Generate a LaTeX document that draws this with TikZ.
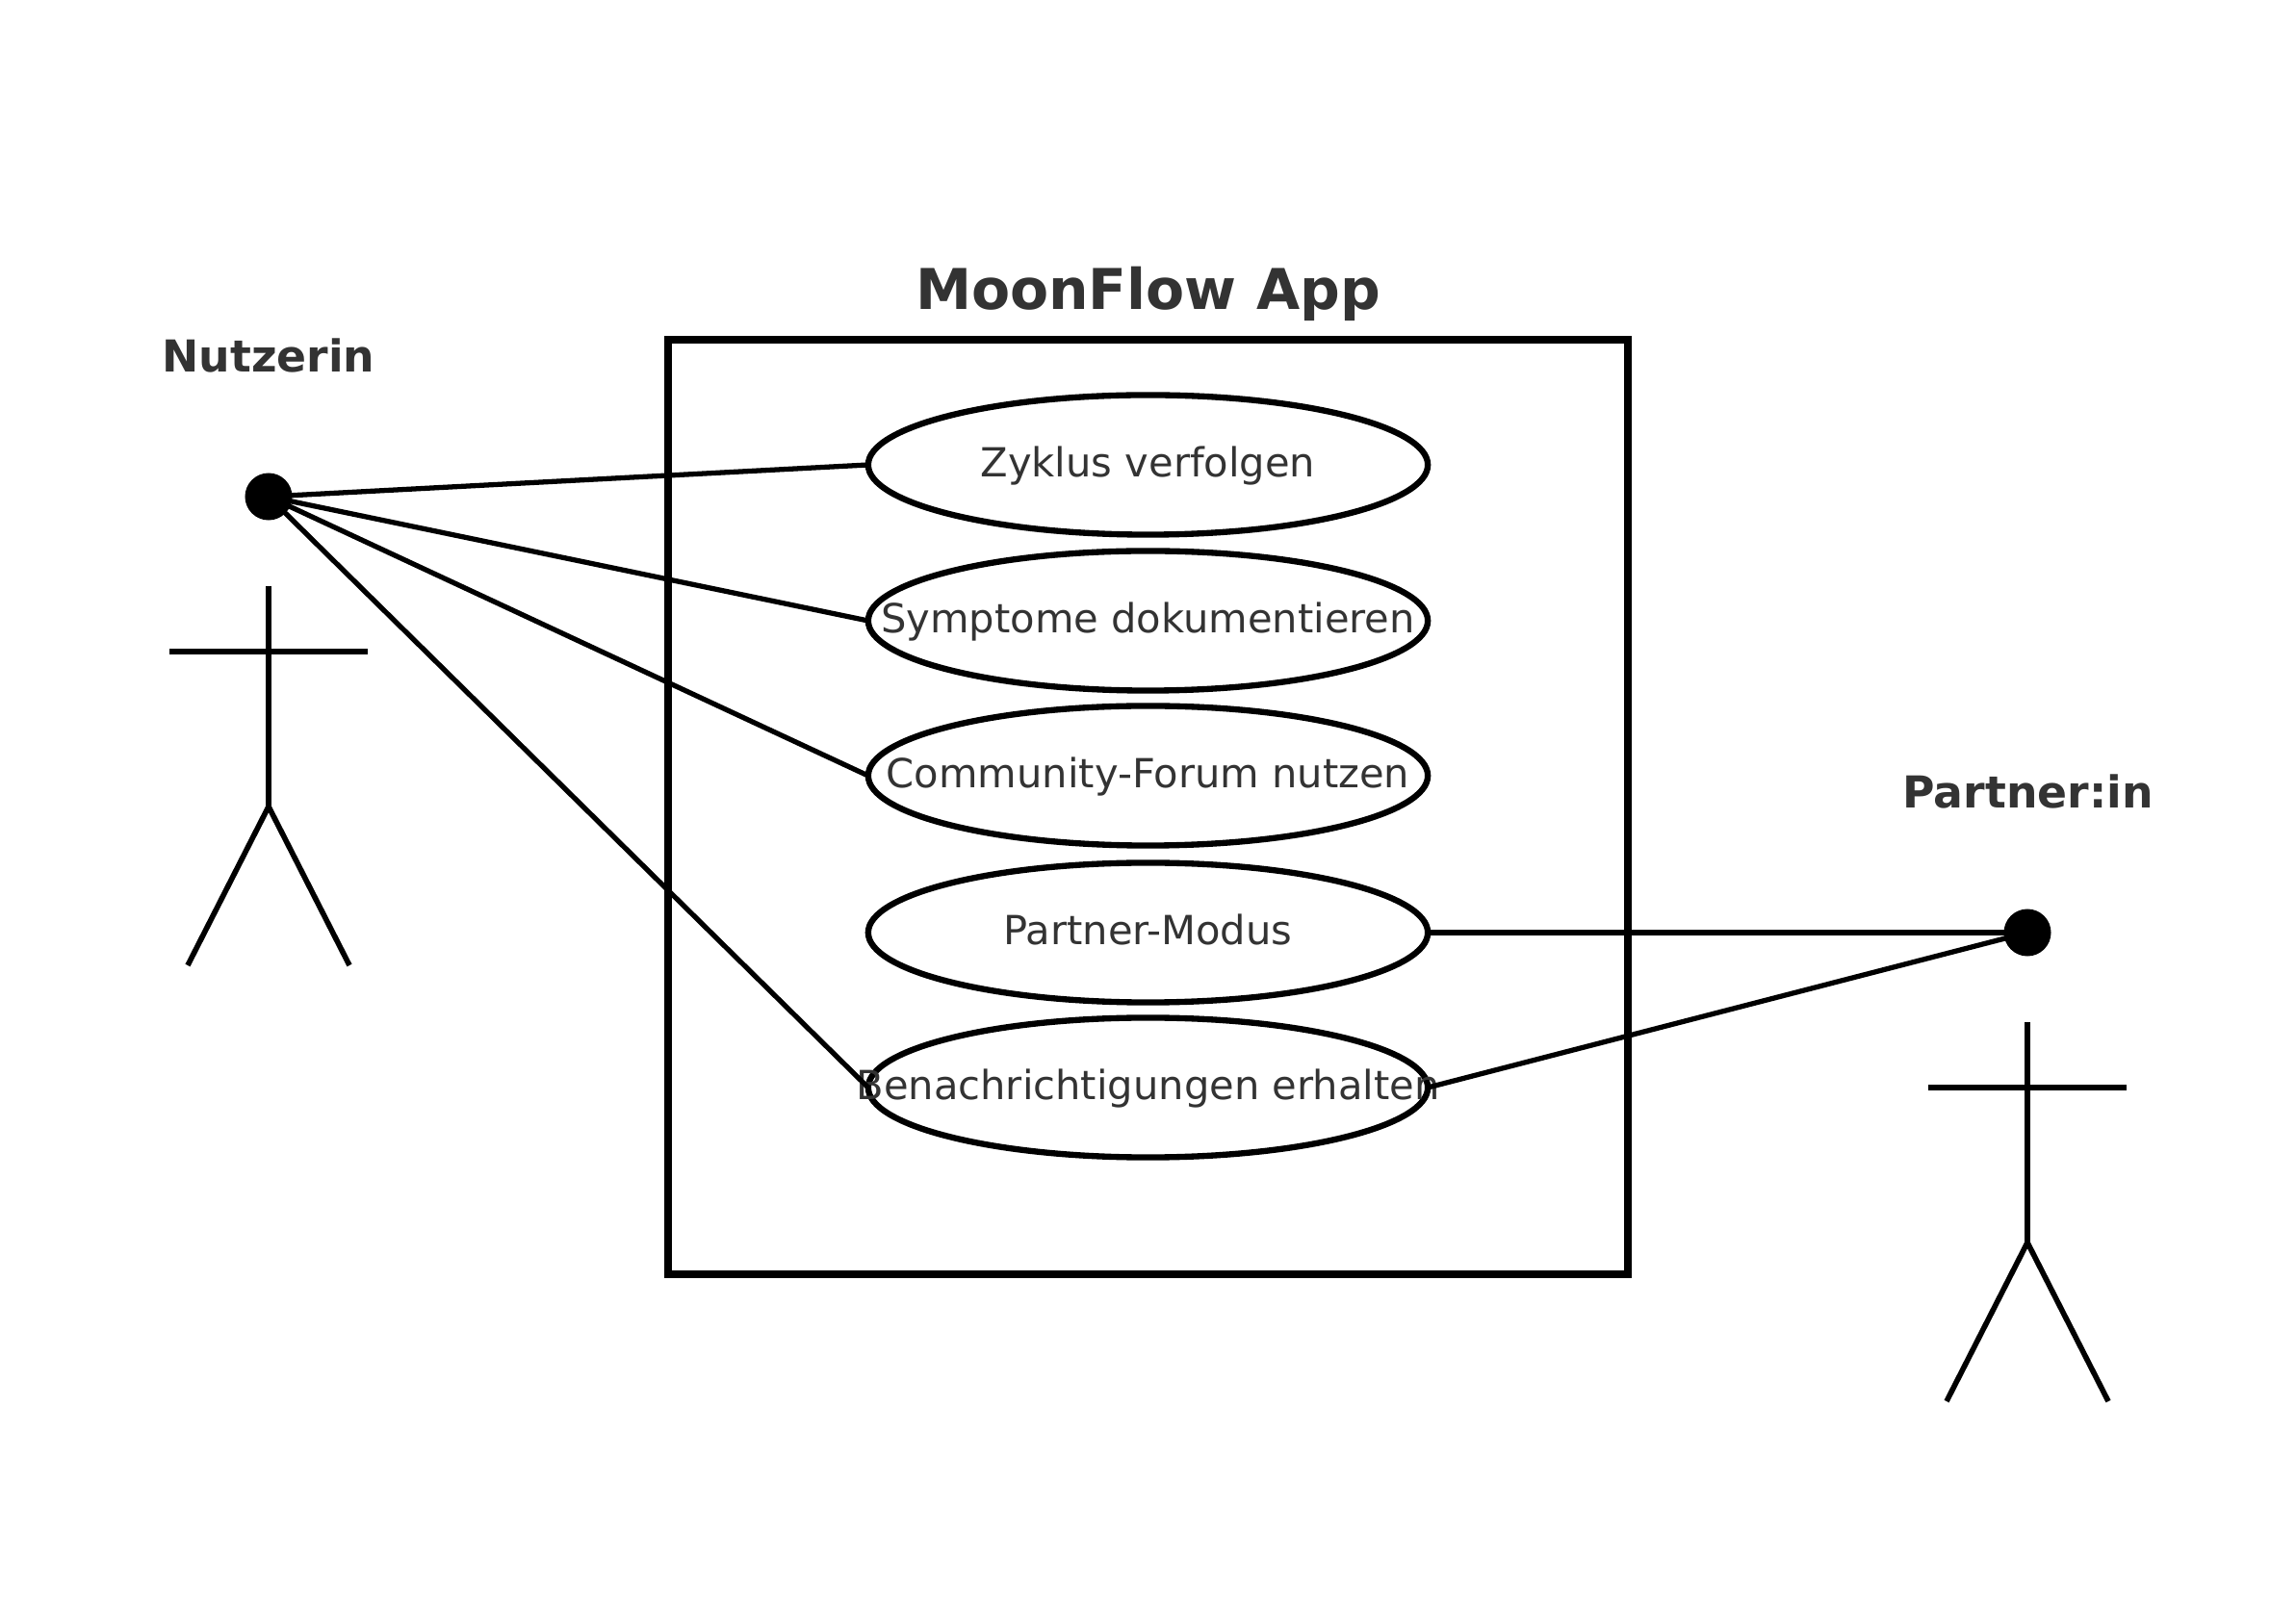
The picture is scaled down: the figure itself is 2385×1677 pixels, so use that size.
\documentclass[tikz,border=0pt]{standalone}
\usepackage{fontspec}
\setmainfont{DejaVu Sans}
\usetikzlibrary{calc, shapes.geometric}

\begin{document}
\begin{tikzpicture}
	[x=0.01cm, y=-0.01cm,
	 UseCase/.style={ellipse, draw, line width=1.8pt, fill=white, minimum width=5.81cm, minimum height=1.45cm, inner sep=0pt, outer sep=0pt},	%Options for use case ellipse
	 CaseText/.style={text=TextGrey, font=\fontsize{11.84}{14}\selectfont, inner sep=0pt, text height=9.2pt, text depth=2.6pt, yshift=-0.15pt},
	 ActorName/.style={text=TextGrey, font=\fontsize{13}{16}\selectfont\bfseries, inner sep=0pt, text height=9.8pt, text depth=2.8pt},
	 ActorHead/.style={circle, fill=black, minimum size=0.49cm, inner sep=0pt, outer sep=0pt},
	 ActorLine/.style={line width=1.6pt},
	 Assoc/.style={line width=1.5pt}
	]
	\definecolor{TextGrey}{HTML}{333333}
	
	\def\CaseX{1192.5};		%Centre line of all use cases and of the system box
	
	\useasboundingbox (0,0) rectangle (2385,1677);
	
	\draw[line width=2.5pt] (694,353) rectangle (1691,1324);		%System box
	\node[text=TextGrey, font=\fontsize{16.6}{20}\selectfont\bfseries, inner sep=0pt, text height=12.4pt, text depth=3.5pt] (Title) at (\CaseX,306) {MoonFlow App};
	
	\node[ActorHead] (HeadN) at (279,516) {};		%Actor Nutzerin
	\node[ActorHead] (HeadP) at (2106,969) {};		%Actor Partner:in
	\node[ActorName] (NameN) at (279,374) {Nutzerin};
	\node[ActorName] (NameP) at (2106.5,827) {Partner:in};
	
	\node[UseCase, label={[CaseText]center:Zyklus verfolgen}] (Zyklus) at (\CaseX,483) {};
	\node[UseCase, label={[CaseText]center:Symptome dokumentieren}] (Symptome) at (\CaseX,645) {};
	\node[UseCase, label={[CaseText]center:Community-Forum nutzen}] (Forum) at (\CaseX,806) {};
	\node[UseCase, label={[CaseText]center:Partner-Modus}] (Modus) at (\CaseX,969) {};
	\node[UseCase, label={[CaseText]center:Benachrichtigungen erhalten}] (Benach) at (\CaseX,1130) {};
	
	\foreach \Head in {HeadN, HeadP}{		%Stick figure below each head
		\draw[ActorLine] ($(\Head)+(0,93)$) -- ($(\Head)+(0,322)$);
		\draw[ActorLine] ($(\Head)+(-103,161)$) -- ($(\Head)+(103,161)$);
		\draw[ActorLine] ($(\Head)+(-84,487)$) -- ($(\Head)+(0,322)$) -- ($(\Head)+(84,487)$);
	}
	
	\foreach \Case in {Zyklus, Symptome, Forum, Benach}
		\draw[Assoc] (HeadN.center) -- (\Case.west);
	\draw[Assoc] (Modus.east) -- (HeadP.center);
	\draw[Assoc] (Benach.east) -- (HeadP.center);
\end{tikzpicture}
\end{document}
